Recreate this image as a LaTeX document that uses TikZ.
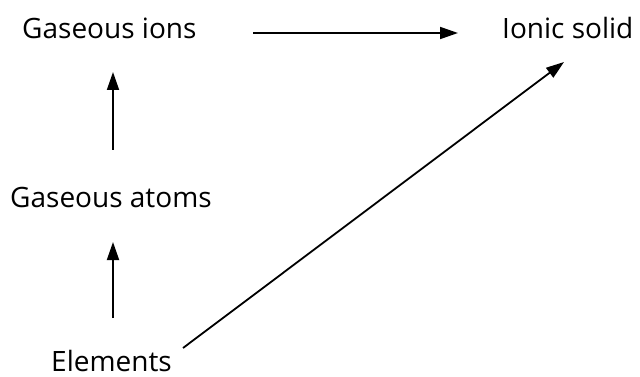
\documentclass[tikz,border=0pt]{standalone}
\usepackage{fontspec}
\setmainfont{Open Sans}
\usetikzlibrary{arrows.meta}
\begin{document}
\begin{tikzpicture}[x=1pt,y=-1pt,
  lbl/.style={inner sep=0pt, anchor=base west, font=\fontsize{28}{32}\selectfont},
  arr/.style={line width=1.8pt, -{Triangle[length=18pt,width=12pt]}}]
\useasboundingbox (0,0) rectangle (640,377);
\node[lbl] (gi) at (22,39) {Gaseous ions};
\node[lbl] (is) at (502,39) {Ionic solid};
\node[lbl] (ga) at (10,207) {Gaseous atoms};
\node[lbl] (el) at (51,371) {Elements};
\coordinate (h1) at (253,33);
\coordinate (h2) at (458,33);
\coordinate (v1) at (113,150);
\coordinate (v2) at (113,72);
\coordinate (v3) at (113,318);
\coordinate (v4) at (113,242);
\coordinate (d1) at (183,348);
\coordinate (d2) at (564,62);
\draw[arr] (h1) -- (h2);
\draw[arr] (v1) -- (v2);
\draw[arr] (v3) -- (v4);
\draw[arr] (d1) -- (d2);
\end{tikzpicture}
\end{document}
